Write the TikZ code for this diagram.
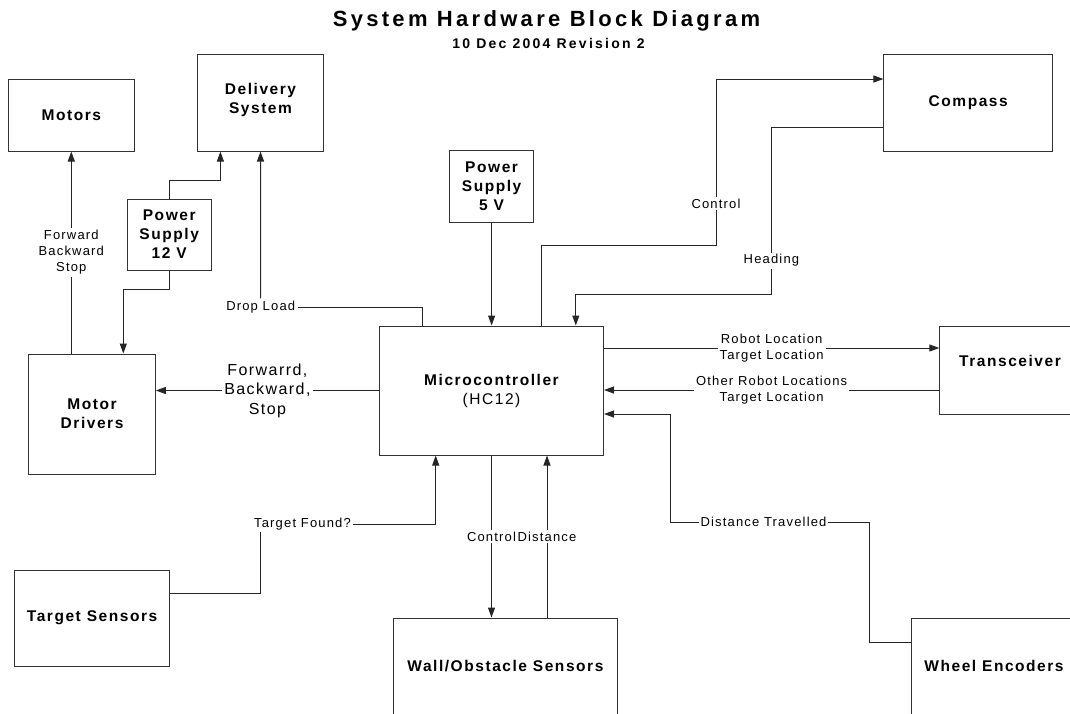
\documentclass[tikz,border=0pt]{standalone}
\usepackage{fontspec}
\setmainfont{Liberation Sans}
\newfontfamily\blkfont[LetterSpace=10]{Liberation Sans}
\newfontfamily\lblfont[LetterSpace=9]{Liberation Sans}
\newfontfamily\ttlfont[LetterSpace=15]{Liberation Sans}
\newfontfamily\subfont[LetterSpace=16]{Liberation Sans}
\usetikzlibrary{arrows.meta}

\begin{document}
\begin{tikzpicture}[x=1pt, y=-1pt, line width=1pt, every node/.style={inner sep=0pt}]
\tikzset{blk/.style={draw=black!80, align=center, font=\blkfont\fontsize{15.5}{19}\selectfont\bfseries},
  btxt/.style={align=center, font=\blkfont\fontsize{15.5}{19}\selectfont\bfseries},
  lbl/.style={fill=white, inner sep=2pt, align=center, font=\lblfont\fontsize{13}{16}\selectfont},
  arr/.style={draw=black!85, -{Triangle[length=10pt, width=7pt]}},
  wire/.style={draw=black!85}}
\useasboundingbox (0,0) rectangle (1070,713);
\clip (0,0) rectangle (1070,713);

\node[anchor=base, font=\ttlfont\fontsize{22}{24}\selectfont\bfseries] (ttl) at (546.5,26) {System Hardware Block Diagram};
\node[anchor=base, font=\subfont\fontsize{14}{16}\selectfont\bfseries] (sub) at (548.5,48) {10 Dec 2004 Revision 2};

\node[blk, minimum width=126pt, minimum height=72pt] (mot) at (71.3,115) {Motors};
\node[blk, minimum width=126.4pt, minimum height=97pt, text depth=9pt] (dsys) at (260.5,102.5) {Delivery\\System};
\node[blk, minimum width=83.7pt, minimum height=71pt] (ps12) at (169.2,234.5) {Power\\Supply\\12 V};
\node[blk, minimum width=84.4pt, minimum height=72pt] (ps5) at (491.6,186) {Power\\Supply\\5 V};
\node[blk, minimum width=168.5pt, minimum height=97pt] (cmp) at (968.2,102.5) {Compass};
\node[blk, minimum width=126.4pt, minimum height=120pt] (mdrv) at (92.1,414) {Motor\\Drivers};
\node[blk, minimum width=224pt, minimum height=129pt] (mc) at (491.5,390.5) {Microcontroller\\\mdseries (HC12)};
\node[blk, minimum width=180pt, minimum height=88pt] (trx) at (1029.8,370) {};
\node[btxt] (trxt) at (1010,361) {Transceiver};
\node[blk, minimum width=154.6pt, minimum height=96pt] (tsens) at (92.1,618) {Target Sensors};
\node[blk, minimum width=224pt, minimum height=96pt] (wall) at (505.4,666) {Wall/Obstacle Sensors};
\node[blk, minimum width=180pt, minimum height=96pt] (whl) at (1001.7,666) {};
\node[btxt] (whlt) at (994,666) {Wheel Encoders};

\draw[arr] (mot.south |- mdrv.north) -- node[lbl] {Forward\\Backward\\Stop} (mot.south);
\draw[arr] (ps12.south) -- ++(0,19) -| ([xshift=31.2pt]mdrv.north);
\draw[arr] (ps12.north) -- ++(0,-18) -| ([xshift=-40.1pt]dsys.south);
\node[lbl] (dl) at (260.7,307) {Drop Load};
\draw[wire] ([xshift=-68.6pt]mc.north) |- (dl.east);
\draw[arr] (dl.north) -- (dsys.south);
\draw[arr] (ps5.south) -- (ps5.south |- mc.north);
\draw[arr] ([xshift=49.9pt]mc.north) -- ++(0,-80) -- ++(174.6,0) |- ([yshift=23.5pt]cmp.west) node[lbl, pos=0.126] {Control};
\draw[arr] ([yshift=-24.5pt]cmp.west) -| ++(-112,167) node[lbl, pos=0.9] {Heading} -| ([xshift=84.3pt]mc.north);
\draw[arr] (mc.west) -- node[lbl, font=\lblfont\fontsize{16}{19.5}\selectfont] {Forwarrd,\\Backward,\\Stop} (mc.west -| mdrv.east);
\draw[arr] ([yshift=42.5pt]mc.east) -- node[lbl] {Robot Location\\Target Location} ([yshift=42.5pt]mc.east -| trx.west);
\draw[arr] ([yshift=-20pt]trx.west) -- node[lbl] {Other Robot Locations\\Target Location} ([yshift=-20pt]trx.west -| mc.east);
\draw[arr] ([yshift=24pt]whl.west) -| ++(-41.4,-120) -| ++(-199.8,-108) node[lbl, pos=0.266] {Distance Travelled} -- ([yshift=-23.5pt]mc.east);
\draw[arr] ([yshift=25pt]tsens.east) -| ++(91,-69) -| ([xshift=-55.8pt]mc.south) node[lbl, pos=0.119] {Target Found?};
\draw[arr] (mc.south) -- node[lbl] {Control} (mc.south |- wall.north);
\draw[arr] ([xshift=41.6pt]wall.north) -- node[lbl] {Distance} ([xshift=41.6pt]wall.north |- mc.south);
\end{tikzpicture}
\end{document}
